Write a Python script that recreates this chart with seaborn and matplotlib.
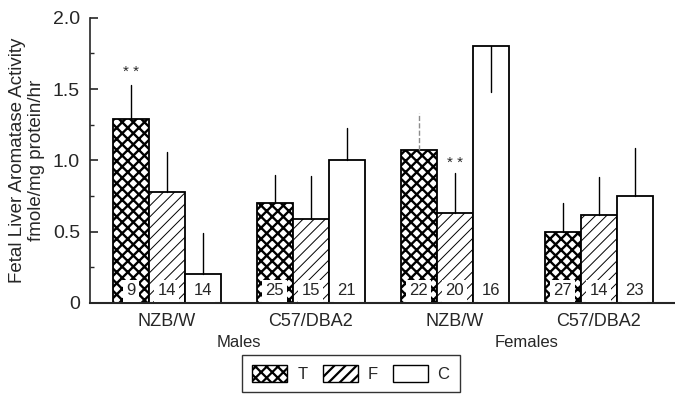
import pandas as pd
import matplotlib
matplotlib.use("Agg")
import matplotlib.pyplot as plt
import seaborn as sns
from matplotlib.patches import Patch

# data
groups = ["NZB/W Males", "C57/DBA2 Males", "NZB/W Females", "C57/DBA2 Females"]
tick_labels = ["NZB/W", "C57/DBA2", "NZB/W", "C57/DBA2"]
treatments = ["T", "F", "C"]
T_vals = [1.29, 0.70, 1.07, 0.50]
F_vals = [0.78, 0.59, 0.63, 0.62]
C_vals = [0.20, 1.00, 1.80, 0.75]
# end point of each error bar
T_err = [1.53, 0.90, 1.33, 0.70]
F_err = [1.06, 0.89, 0.91, 0.88]
C_err = [0.49, 1.23, 1.48, 1.09]
T_n = [9, 25, 22, 27]
F_n = [14, 15, 20, 14]
C_n = [14, 21, 16, 23]

rows = []
for tr, vals in zip(treatments, [T_vals, F_vals, C_vals]):
    for g, v in zip(groups, vals):
        rows.append({"group": g, "treatment": tr, "value": v})
df = pd.DataFrame(rows)

sns.set_style("ticks")
plt.rcParams["font.family"] = ["Liberation Sans", "DejaVu Sans"]
plt.rcParams["hatch.linewidth"] = 1.6

fig = plt.figure(figsize=(6.75, 3.96), dpi=100)
ax = fig.add_axes([0.133, 0.235, 0.867, 0.72])

sns.barplot(data=df, x="group", y="value", hue="treatment", order=groups,
            hue_order=treatments, palette=["white"] * 3, edgecolor="black",
            linewidth=1.3, width=0.75, legend=False, ax=ax)

hatches = {"T": "xxx", "F": "///", "C": ""}
hatch_lw = {"T": 1.7, "F": 0.7, "C": 1.0}
ends = {"T": T_err, "F": F_err, "C": C_err}
ns = {"T": T_n, "F": F_n, "C": C_n}
for tr, cont in zip(treatments, ax.containers):
    for i, bar in enumerate(cont):
        bar.set_hatch(hatches[tr])
        if hasattr(bar, "set_hatch_linewidth"):
            bar.set_hatch_linewidth(hatch_lw[tr])
        cx = bar.get_x() + bar.get_width() / 2
        h = bar.get_height()
        style = "--" if (tr == "T" and i == 2) else "-"
        col = "0.55" if style == "--" else "black"
        ax.plot([cx, cx], [h, ends[tr][i]], color=col, lw=1.0, ls=style,
                zorder=3)
        ax.text(cx, 0.085, str(ns[tr][i]), ha="center", va="center",
                fontsize=12,
                bbox=dict(boxstyle="square,pad=0.2", fc="white", ec="none"))

# significance marks
t0 = ax.containers[0][0]
f2 = ax.containers[1][2]
ax.text(t0.get_x() + t0.get_width() / 2, 1.57, "* *", ha="center",
        va="bottom", fontsize=11)
ax.text(f2.get_x() + f2.get_width() / 2, 0.93, "* *", ha="center",
        va="bottom", fontsize=11)

ax.set_ylim(0, 2.0)
ax.set_xlim(-0.535, 3.53)
ax.set_yticks([0, 0.5, 1.0, 1.5, 2.0])
ax.set_yticklabels(["0", "0.5", "1.0", "1.5", "2.0"], fontsize=14)
ax.set_yticks([0.25, 0.75, 1.25, 1.75], minor=True)
ax.tick_params(axis="y", which="major", direction="in", length=6, width=1.2,
               pad=7)
ax.tick_params(axis="y", which="minor", direction="in", length=3, width=1.0)
ax.set_xticks(range(4))
ax.set_xticklabels(tick_labels, fontsize=13)
ax.tick_params(axis="x", length=0, pad=7)
ax.set_xlabel("")
ax.set_ylabel("Fetal Liver Aromatase Activity\nfmole/mg protein/hr",
              fontsize=13.5, labelpad=6, linespacing=1.1)
for s in ["top", "right"]:
    ax.spines[s].set_visible(False)
ax.spines["left"].set_linewidth(1.2)
ax.spines["bottom"].set_linewidth(1.5)

ax.text(0.5, -0.137, "Males", ha="center", va="center", fontsize=12,
        transform=ax.get_xaxis_transform())
ax.text(2.5, -0.137, "Females", ha="center", va="center", fontsize=12,
        transform=ax.get_xaxis_transform())

handles = [Patch(facecolor="white", edgecolor="black", hatch=hatches[t],
                 label=t) for t in treatments]
leg = fig.legend(handles=handles, loc="center", bbox_to_anchor=(0.52, 0.057),
                 ncol=3, frameon=True, fancybox=False, fontsize=12,
                 handlelength=2.1, handleheight=1.2, columnspacing=0.9,
                 handletextpad=0.6, borderpad=0.6)
leg.get_frame().set_edgecolor("black")
leg.get_frame().set_linewidth(1.0)

fig.savefig("out.png", dpi=100)
